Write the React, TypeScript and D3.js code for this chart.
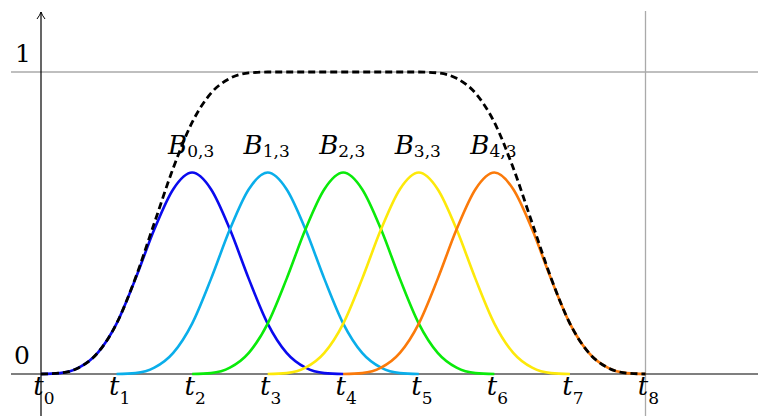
import React from 'react';
import * as d3 from 'd3';

// knot indices t0..t8 (uniform)
const knots = [0, 1, 2, 3, 4, 5, 6, 7, 8];
const knotLabels = ['0', '1', '2', '3', '4', '5', '6', '7', '8'];

// one cubic basis bump, read at quarter-knot steps over its 4-knot support
const bumpOffsets = [0, 0.25, 0.5, 0.75, 1, 1.25, 1.5, 1.75, 2, 2.25, 2.5, 2.75, 3, 3.25, 3.5, 3.75, 4];
const bumpValues = [0, 0.003, 0.021, 0.07, 0.167, 0.315, 0.479, 0.612, 0.667, 0.612, 0.479, 0.315, 0.167, 0.07, 0.021, 0.003, 0];

// five basis functions B_{i,3}, each starting at knot t_i
const basisStart = [0, 1, 2, 3, 4];
const basisNames = ['0,3', '1,3', '2,3', '3,3', '4,3'];
const basisColors = ['#0a0aee', '#0aaeea', '#0aea0a', '#fde90a', '#fb7a0a'];

// dashed sum curve
const sumX = [0, 0.25, 0.5, 0.75, 1, 1.25, 1.5, 1.75, 2, 2.25, 2.5, 2.75, 3, 4, 5, 5.25, 5.5, 5.75, 6, 6.25, 6.5, 6.75, 7, 7.25, 7.5, 7.75, 8];
const sumY = [0, 0.003, 0.021, 0.07, 0.167, 0.318, 0.5, 0.682, 0.833, 0.93, 0.979, 0.997, 1, 1, 1, 0.997, 0.979, 0.93, 0.833, 0.682, 0.5, 0.318, 0.167, 0.07, 0.021, 0.003, 0];

const W = 758;
const H = 416;
// Liberation Serif here has no digits/italics, DejaVu Serif does
const FONT = "'DejaVu Serif'";

export default function App() {
  const x = d3.scaleLinear().domain([0, 8]).range([41, 645.5]);
  const y = d3.scaleLinear().domain([0, 1]).range([374, 72]);

  const line = d3
    .line<[number, number]>()
    .x((d) => x(d[0]))
    .y((d) => y(d[1]))
    .curve(d3.curveMonotoneX);

  const sumPts: [number, number][] = sumX.map((v, i) => [v, sumY[i]]);
  const peak = d3.max(bumpValues) as number;
  const txt = { fontFamily: FONT };

  return (
    <svg
      width={W}
      height={H}
      style={{ position: 'absolute', left: 0, top: 0, background: '#fff' }}
    >
      {/* grid lines at y=1 and x=t8 */}
      <line x1={11} x2={W} y1={y(1)} y2={y(1)} stroke="#aaa" strokeWidth={1.3} />
      <line x1={x(8)} x2={x(8)} y1={11} y2={H} stroke="#aaa" strokeWidth={1.3} />

      {/* axes */}
      <line x1={11} x2={W} y1={y(0)} y2={y(0)} stroke="#000" strokeWidth={1.2} />
      <line x1={x(0)} x2={x(0)} y1={12} y2={H} stroke="#000" strokeWidth={1.2} />
      <path
        d={`M${x(0) - 4},${19} Q${x(0) - 1},${15} ${x(0)},${12} Q${x(0) + 1},${15} ${x(0) + 4},${19}`}
        fill="none"
        stroke="#000"
        strokeWidth={1}
      />

      {/* y labels */}
      <text x={22} y={y(0) - 10} style={txt} fontSize={25} textAnchor="middle">0</text>
      <text x={23} y={y(1) - 10} style={txt} fontSize={25} textAnchor="middle">1</text>

      {/* basis functions */}
      {basisStart.map((s, i) => {
        const pts: [number, number][] = bumpOffsets.map((o, j) => [s + o, bumpValues[j]]);
        return (
          <path
            key={i}
            d={line(pts) || ''}
            fill="none"
            stroke={basisColors[i]}
            strokeWidth={2.6}
          />
        );
      })}

      {/* dashed sum */}
      <path
        d={line(sumPts) || ''}
        fill="none"
        stroke="#000"
        strokeWidth={2.8}
        strokeDasharray="7 4"
      />

      {/* basis labels */}
      {basisStart.map((s, i) => (
        <text
          key={i}
          x={x(s + 2) - 1}
          y={y(peak) - 19}
          style={txt}
          fontSize={26}
          textAnchor="middle"
        >
          <tspan fontStyle="italic">B</tspan>
          <tspan fontSize={17} dy={3}>{basisNames[i]}</tspan>
        </text>
      ))}

      {/* knot labels */}
      {knots.map((k, i) => (
        <text
          key={i}
          x={x(k) + 3}
          y={y(0) + 21}
          style={txt}
          fontSize={26}
          textAnchor="middle"
        >
          <tspan fontStyle="italic">t</tspan>
          <tspan fontSize={17} dy={9}>{knotLabels[i]}</tspan>
        </text>
      ))}
    </svg>
  );
}
